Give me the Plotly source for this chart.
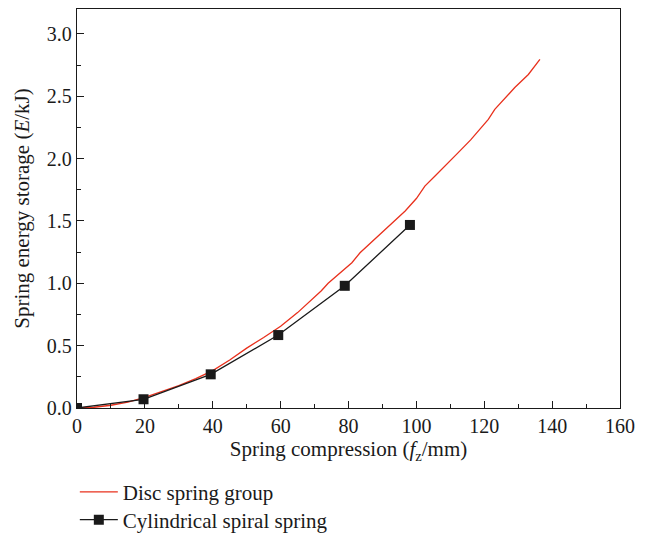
import plotly.graph_objects as go

# Disc spring group (red curve)
disc_x = [0, 5, 10, 15, 20, 25, 30, 35, 40, 45, 50, 55, 60, 65, 70, 72, 74, 78, 81, 83.4, 86, 89.8, 93,
          96.7, 100, 102.5, 105.5, 109, 112.4, 116, 121.2, 123.1, 126, 129, 133, 136.4]
disc_y = [0, 0.006, 0.022, 0.048, 0.085, 0.13, 0.18, 0.235, 0.30, 0.385, 0.48, 0.565, 0.655, 0.765,
          0.89, 0.94, 1.0, 1.09, 1.165, 1.245, 1.31, 1.406, 1.49, 1.58, 1.68, 1.78, 1.86, 1.96, 2.05,
          2.15, 2.315, 2.395, 2.48, 2.57, 2.675, 2.796]

# Cylindrical spiral spring (black with squares)
cyl_x = [0, 19.6, 39.4, 59.3, 78.9, 98.1]
cyl_y = [0, 0.07, 0.27, 0.585, 0.98, 1.468]

x_ticks = [0, 20, 40, 60, 80, 100, 120, 140, 160]
y_ticks = [0.0, 0.5, 1.0, 1.5, 2.0, 2.5, 3.0]

FONT = "Liberation Serif"
INK = "#1a1a1a"

fig = go.Figure()
fig.add_trace(go.Scatter(
    x=disc_x, y=disc_y, mode="lines", name="Disc spring group",
    line=dict(color="#e8301c", width=1.3), legend="legend",
))
fig.add_trace(go.Scatter(
    x=cyl_x, y=cyl_y, mode="lines+markers", name="Cylindrical spiral spring",
    line=dict(color=INK, width=1.3),
    marker=dict(symbol="square", size=10, color=INK), legend="legend2",
))

axis_common = dict(
    showline=True, linecolor=INK, linewidth=1.3, mirror=True,
    ticks="inside", ticklen=7, tickwidth=1.2, tickcolor=INK,
    showgrid=False, zeroline=False,
    tickfont=dict(family=FONT, size=20, color=INK),
)

fig.update_xaxes(
    range=[0, 160], tickvals=x_ticks, ticktext=[str(v) for v in x_ticks],
    minor=dict(dtick=10, ticks="inside", ticklen=4, tickwidth=1.2, tickcolor=INK),
    title=dict(text="Spring compression (<i>f</i><sub>z</sub>/mm)",
               font=dict(family=FONT, size=21, color=INK), standoff=5),
    **axis_common,
)
fig.update_yaxes(
    range=[0, 3.2], tickvals=y_ticks, ticktext=[f"{v:.1f}" for v in y_ticks],
    minor=dict(dtick=0.25, ticks="inside", ticklen=4, tickwidth=1.2, tickcolor=INK),
    title=dict(text="Spring energy storage (<i>E</i>/kJ)",
               font=dict(family=FONT, size=21, color=INK), standoff=11),
    **axis_common,
)

legend_common = dict(
    xanchor="left", yanchor="middle", yref="container",
    font=dict(family=FONT, size=21, color=INK),
    bgcolor="rgba(0,0,0,0)", borderwidth=0, itemwidth=38,
)

fig.update_layout(
    width=640, height=529,
    margin=dict(l=69, r=28, t=1, b=129),
    paper_bgcolor="white", plot_bgcolor="white",
    showlegend=True,
    legend=dict(x=-0.004, y=0.0845, **legend_common),
    legend2=dict(x=-0.004, y=0.0321, **legend_common),
)

fig.write_html("out.html")
